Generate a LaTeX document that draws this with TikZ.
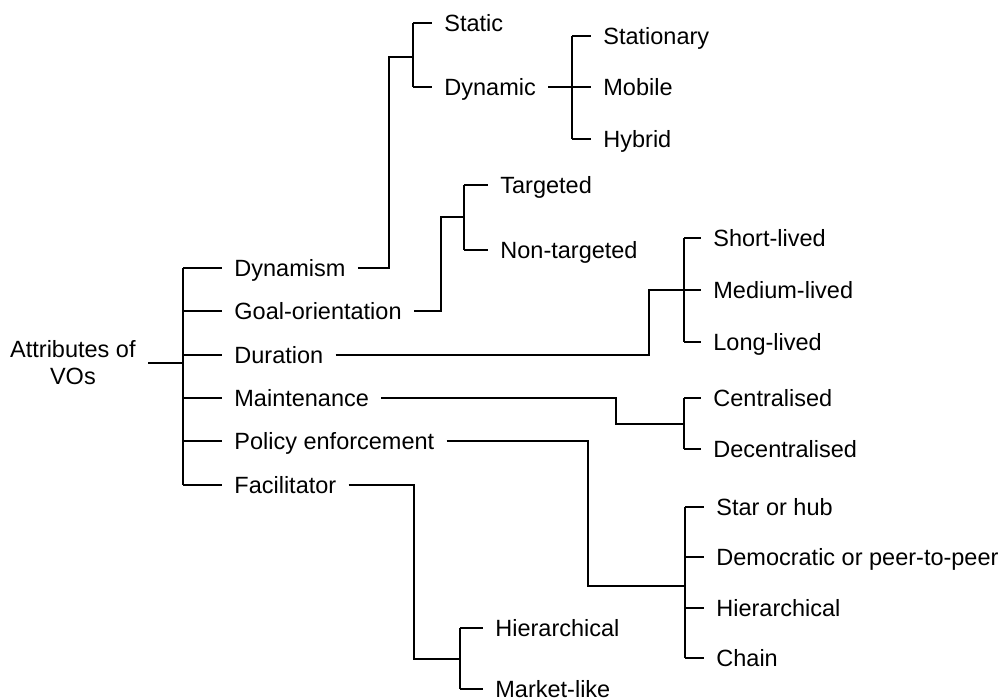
\documentclass[tikz,border=0pt]{standalone}
\usepackage{fontspec}
\setmainfont{Liberation Sans}
\begin{document}
\begin{tikzpicture}[x=0.5pt,y=-0.5pt,
  lbl/.style={anchor=west,inner xsep=6pt,inner ysep=0pt,text height=8.4pt,text depth=0pt,
    font=\fontsize{11.75pt}{13.5pt}\selectfont},
  conn/.style={line width=0.75pt,black}]
\useasboundingbox (0,0) rectangle (1002,700);
% root
\node[anchor=east,inner xsep=6pt,inner ysep=0pt,align=center,
  font=\fontsize{11.75pt}{13.5pt}\selectfont] (root) at (148,363) {Attributes of\\VOs};
% level 1
\node[lbl] (dyn)  at (222,268) {Dynamism};
\node[lbl] (goal) at (222,311) {Goal-orientation};
\node[lbl] (dur)  at (222,355) {Duration};
\node[lbl] (mnt)  at (222,398) {Maintenance};
\node[lbl] (pol)  at (222,441) {Policy enforcement};
\node[lbl] (fac)  at (222,485) {Facilitator};
% dynamism
\node[lbl] (static)  at (432,23) {Static};
\node[lbl] (dynamic) at (432,87) {Dynamic};
\node[lbl] (stat) at (591,36) {Stationary};
\node[lbl] (mob)  at (591,87) {Mobile};
\node[lbl] (hyb)  at (591,139) {Hybrid};
% goal
\node[lbl] (tgt)  at (488,185) {Targeted};
\node[lbl] (ntgt) at (488,250) {Non-targeted};
% duration
\node[lbl] (short) at (701,238) {Short-lived};
\node[lbl] (med)   at (701,290) {Medium-lived};
\node[lbl] (long)  at (701,342) {Long-lived};
% maintenance
\node[lbl] (cent) at (701,398) {Centralised};
\node[lbl] (dec)  at (701,449) {Decentralised};
% policy
\node[lbl] (star)  at (704,507) {Star or hub};
\node[lbl] (demo)  at (704,557) {Democratic or peer-to-peer};
\node[lbl] (hierb) at (704,608) {Hierarchical};
\node[lbl] (chain) at (704,658) {Chain};
% facilitator
\node[lbl] (hiera)  at (483,628) {Hierarchical};
\node[lbl] (market) at (483,689) {Market-like};

% coordinates
\coordinate (b0) at (183,363);
\coordinate (j1) at (389,57);  \coordinate (s1) at (413,57);
\coordinate (s2) at (572,87);
\coordinate (j2) at (441,217); \coordinate (s3) at (464,217);
\coordinate (j3) at (649,290); \coordinate (s4) at (684,290);
\coordinate (j4) at (616,424); \coordinate (s5) at (684,424);
\coordinate (j5) at (588,586); \coordinate (s6) at (685,586);
\coordinate (j6) at (414,659); \coordinate (s7) at (460,659);

\begin{scope}[conn]
% root
\draw (root.east) -- (b0);
\draw (b0 |- dyn) -- (b0 |- fac);
\foreach \n in {dyn,goal,dur,mnt,pol,fac} \draw (b0 |- \n) -- (\n.west);
% dynamism
\draw (dyn.east) -| (j1) -- (s1);
\draw (s1 |- static) -- (s1 |- dynamic);
\foreach \n in {static,dynamic} \draw (s1 |- \n) -- (\n.west);
\draw (dynamic.east) -- (mob.west);
\draw (s2 |- stat) -- (s2 |- hyb);
\foreach \n in {stat,hyb} \draw (s2 |- \n) -- (\n.west);
% goal
\draw (goal.east) -| (j2) -- (s3);
\draw (s3 |- tgt) -- (s3 |- ntgt);
\foreach \n in {tgt,ntgt} \draw (s3 |- \n) -- (\n.west);
% duration
\draw (dur.east) -| (j3) -- (s4);
\draw (s4 |- short) -- (s4 |- long);
\foreach \n in {short,med,long} \draw (s4 |- \n) -- (\n.west);
% maintenance
\draw (mnt.east) -| (j4) -- (s5);
\draw (s5 |- cent) -- (s5 |- dec);
\foreach \n in {cent,dec} \draw (s5 |- \n) -- (\n.west);
% policy
\draw (pol.east) -| (j5) -- (s6);
\draw (s6 |- star) -- (s6 |- chain);
\foreach \n in {star,demo,hierb,chain} \draw (s6 |- \n) -- (\n.west);
% facilitator
\draw (fac.east) -| (j6) -- (s7);
\draw (s7 |- hiera) -- (s7 |- market);
\foreach \n in {hiera,market} \draw (s7 |- \n) -- (\n.west);
\end{scope}
\end{tikzpicture}
\end{document}
